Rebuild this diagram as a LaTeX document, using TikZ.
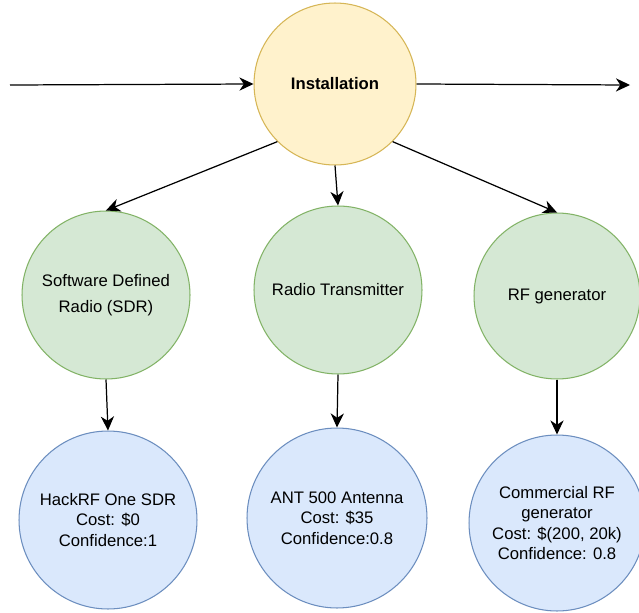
\documentclass[tikz,border=0pt]{standalone}
\usepackage{fontspec}
\setmainfont{Liberation Sans}
\usetikzlibrary{arrows.meta}

\definecolor{instfill}{HTML}{FFF2CC}
\definecolor{instdraw}{HTML}{D6B656}
\definecolor{stepfill}{HTML}{D5E8D4}
\definecolor{stepdraw}{HTML}{82B366}
\definecolor{toolfill}{HTML}{DAE8FC}
\definecolor{tooldraw}{HTML}{6C8EBF}

\begin{document}
\begin{tikzpicture}[x=0.02cm, y=-0.02cm,
    bubble/.style={circle, inner sep=0pt, line width=0.6pt, align=center,
        font=\fontsize{9.5}{11.6}\selectfont},
    rootnode/.style={bubble, fill=instfill, draw=instdraw},
    stepnode/.style={bubble, fill=stepfill, draw=stepdraw},
    toolnode/.style={bubble, fill=toolfill, draw=tooldraw},
    link/.style={-{Stealth[length=8pt, width=7.5pt, inset=2.5pt]}, line width=0.7pt}]
    \clip (0,0) rectangle (639,612);
    \fill[white] (0,0) rectangle (639,612);

    % Root
    \node[rootnode, minimum size=3.24cm] (inst) at (335,84) {\textbf{Installation}};
    \coordinate (in) at (10,85);
    \coordinate (out) at (630,85);

    % Components
    \node[stepnode, minimum size=3.36cm] (sdr) at (106,295) {Software Defined\\[3.5pt]Radio (SDR)};
    \node[stepnode, minimum size=3.36cm] (radio) at (338,290) {Radio Transmitter};
    \node[stepnode, minimum size=3.32cm] (rfgen) at (557,296) {RF generator};

    % Choices
    \node[toolnode, minimum size=3.56cm] (hackrf) at (108,520) {HackRF One SDR\\Cost: \$0\\Confidence:1};
    \node[toolnode, minimum size=3.6cm] (ant) at (337,518) {ANT 500 Antenna\\Cost: \$35\\Confidence:0.8};
    \node[toolnode, minimum size=3.52cm] (comrf) at (557,523) {Commercial RF\\generator\\Cost: \$(200, 20k)\\Confidence: 0.8};

    % Arrows
    \draw[link] (in) -- (inst.west);
    \draw[link] (inst.east) -- (out);
    \draw[link] (inst.225) -- (sdr.north);
    \draw[link] (inst.south) -- (radio.north);
    \draw[link] (inst.315) -- (rfgen.north);
    \draw[link] (sdr.south) -- (hackrf.north);
    \draw[link] (radio.south) -- (ant.north);
    \draw[link] (rfgen.south) -- (comrf.north);
\end{tikzpicture}
\end{document}
